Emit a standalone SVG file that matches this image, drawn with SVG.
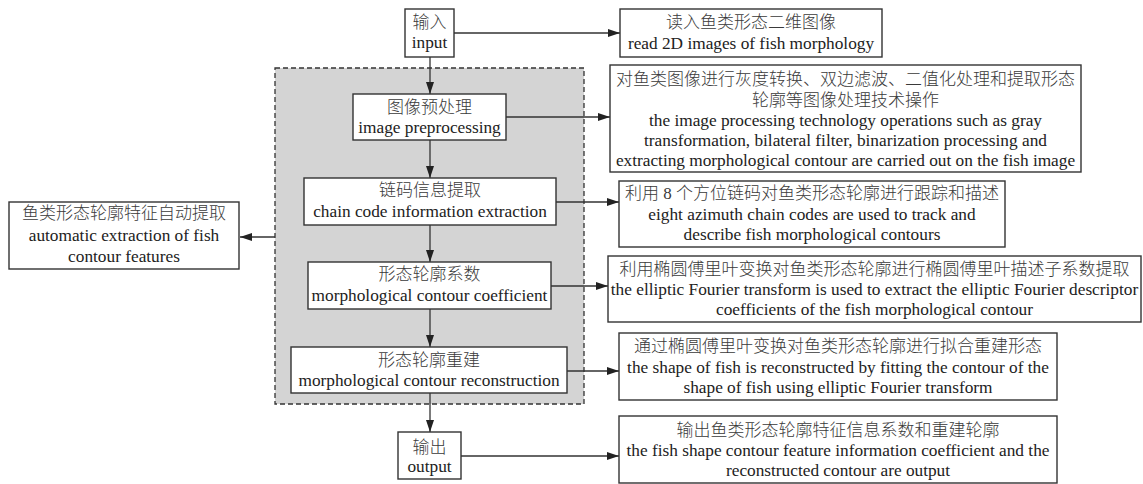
<svg xmlns="http://www.w3.org/2000/svg" width="1143" height="484" viewBox="0 0 1143 484">
<style>
.box{fill:#fff;stroke:#333;stroke-width:1.4}
.t{font-family:'Liberation Serif','Times New Roman',serif;font-size:17.3px;fill:#222;text-anchor:middle}
.cn{font-family:'Liberation Serif','Noto Sans CJK SC',serif;font-size:17px;fill:#3a3a3a;text-anchor:middle;font-weight:300}
.ln{stroke:#333;stroke-width:1.3;fill:none;marker-end:url(#ah)}
</style>
<defs>
<marker id="ah" markerUnits="userSpaceOnUse" markerWidth="12" markerHeight="8" refX="12" refY="4" orient="auto">
<path d="M0,0 L12,4 L0,8 z" fill="#222"/>
</marker>
</defs>
<rect width="1143" height="484" fill="#fff"/>
<g id="region">
<rect x="275" y="68" width="309" height="336" fill="#d4d4d4" stroke="#333" stroke-width="1.3" stroke-dasharray="5,3"/>
</g>
<g id="connectors">
<path class="ln" d="M430,57 V94"/>
<path class="ln" d="M430,140 V178"/>
<path class="ln" d="M430,225 V262"/>
<path class="ln" d="M430,309 V347"/>
<path class="ln" d="M430,393 V432"/>
<path class="ln" d="M454,33 H620"/>
<path class="ln" d="M506,117 H610"/>
<path class="ln" d="M556,202 H619"/>
<path class="ln" d="M551,286 H608"/>
<path class="ln" d="M567,371 H619"/>
<path class="ln" d="M461,456 H619"/>
<path class="ln" d="M275,237 H240"/>
</g>
<g id="input">
<rect class="box" x="405" y="9" width="49" height="48"/>
<text class="cn" x="429.5" y="28">输入</text>
<text class="t" x="429.5" y="48">input</text>
</g>
<g id="read">
<rect class="box" x="620" y="9" width="262" height="48"/>
<text class="cn" x="751" y="28">读入鱼类形态二维图像</text>
<text class="t" x="751" y="49">read 2D images of fish morphology</text>
</g>
<g id="preprocess">
<rect class="box" x="353" y="94" width="153" height="46"/>
<text class="cn" x="429.5" y="113">图像预处理</text>
<text class="t" x="429.5" y="133">image preprocessing</text>
</g>
<g id="preprocess-desc">
<rect class="box" x="610" y="65" width="471" height="107"/>
<text class="cn" x="845.5" y="85">对鱼类图像进行灰度转换、双边滤波、二值化处理和提取形态</text>
<text class="cn" x="845.5" y="106">轮廓等图像处理技术操作</text>
<text class="t" x="845.5" y="126">the image processing technology operations such as gray</text>
<text class="t" x="845.5" y="146">transformation, bilateral filter, binarization processing and</text>
<text class="t" x="845.5" y="166">extracting morphological contour are carried out on the fish image</text>
</g>
<g id="chain">
<rect class="box" x="304" y="178" width="252" height="47"/>
<text class="cn" x="430" y="196">链码信息提取</text>
<text class="t" x="430" y="217">chain code information extraction</text>
</g>
<g id="chain-desc">
<rect class="box" x="619" y="181" width="386" height="66"/>
<text class="cn" x="812" y="199">利用 8 个方位链码对鱼类形态轮廓进行跟踪和描述</text>
<text class="t" x="812" y="220">eight azimuth chain codes are used to track and</text>
<text class="t" x="812" y="240">describe fish morphological contours</text>
</g>
<g id="auto">
<rect class="box" x="9" y="202" width="230" height="67"/>
<text class="cn" x="124" y="219">鱼类形态轮廓特征自动提取</text>
<text class="t" x="124" y="241">automatic extraction of fish</text>
<text class="t" x="124" y="262">contour features</text>
</g>
<g id="coef">
<rect class="box" x="308" y="262" width="243" height="47"/>
<text class="cn" x="429.5" y="280">形态轮廓系数</text>
<text class="t" x="429.5" y="301">morphological contour coefficient</text>
</g>
<g id="coef-desc">
<rect class="box" x="608" y="256" width="533" height="66"/>
<text class="cn" x="874.5" y="275">利用椭圆傅里叶变换对鱼类形态轮廓进行椭圆傅里叶描述子系数提取</text>
<text class="t" x="874.5" y="295">the elliptic Fourier transform is used to extract the elliptic Fourier descriptor</text>
<text class="t" x="874.5" y="315">coefficients of the fish morphological contour</text>
</g>
<g id="recon">
<rect class="box" x="291" y="347" width="276" height="46"/>
<text class="cn" x="429" y="366">形态轮廓重建</text>
<text class="t" x="429" y="386">morphological contour reconstruction</text>
</g>
<g id="recon-desc">
<rect class="box" x="619" y="333" width="438" height="67"/>
<text class="cn" x="838" y="352">通过椭圆傅里叶变换对鱼类形态轮廓进行拟合重建形态</text>
<text class="t" x="838" y="373">the shape of fish is reconstructed by fitting the contour of the</text>
<text class="t" x="838" y="393">shape of fish using elliptic Fourier transform</text>
</g>
<g id="output">
<rect class="box" x="398" y="432" width="63" height="47"/>
<text class="cn" x="429.5" y="453">输出</text>
<text class="t" x="429.5" y="472">output</text>
</g>
<g id="output-desc">
<rect class="box" x="619" y="416" width="438" height="67"/>
<text class="cn" x="838" y="436">输出鱼类形态轮廓特征信息系数和重建轮廓</text>
<text class="t" x="838" y="456">the fish shape contour feature information coefficient and the</text>
<text class="t" x="838" y="476">reconstructed contour are output</text>
</g>
</svg>
